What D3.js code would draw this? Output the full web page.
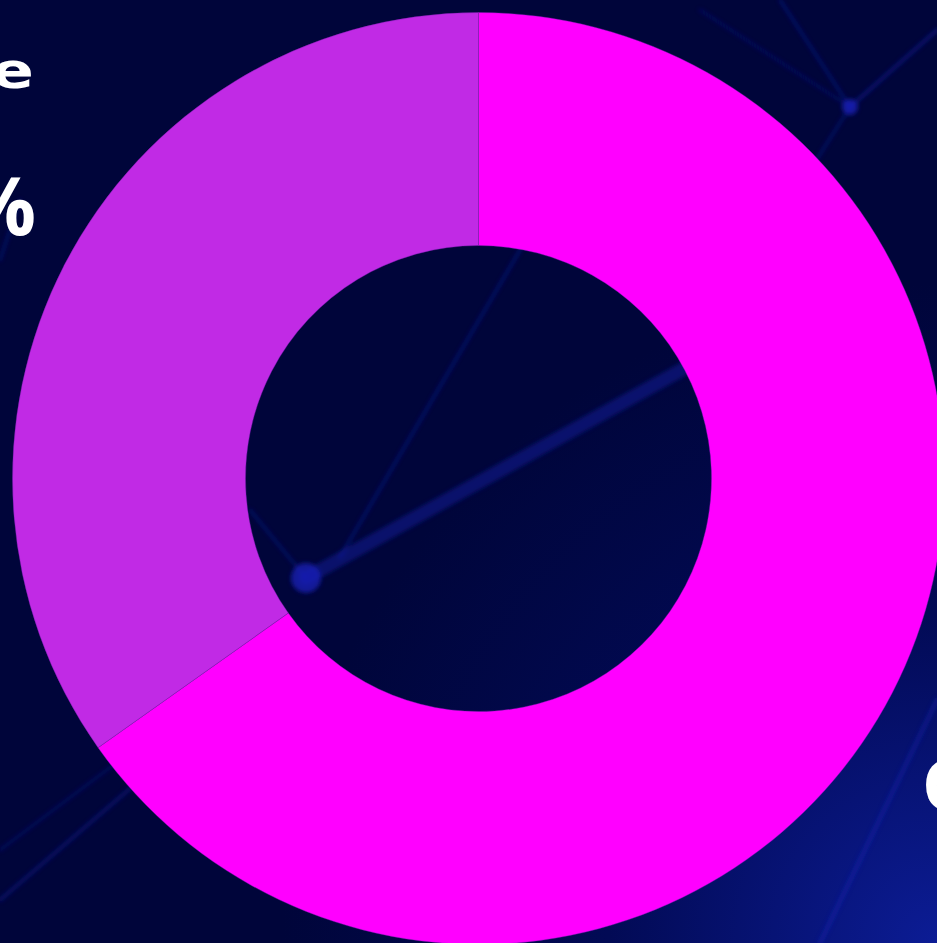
<!DOCTYPE html>
<html>
<head>
<meta charset="utf-8">
<script src="https://cdn.jsdelivr.net/npm/d3@7"></script>
<style>
  html, body { margin: 0; padding: 0; background: #00043a; overflow: hidden; }
  svg { display: block; }
</style>
</head>
<body>
<div id="chart"></div>
<script>
// slice data, clockwise from 12 o'clock
const labels = ['Magenta', 'Purple'];
const values = [65.2, 34.8];
const colors = ['#ff00ff', '#c12ae5'];

// background network strands (decoration only)
const strands = [
  [[687, 367], [306, 578], 14, 0.35],
  [[523, 245], [340, 557], 3, 0.35],
  [[250, 510], [306, 578], 3, 0.3],
  [[780, 0], [850, 107], 3, 0.35],
  [[937, 30], [850, 107], 4, 0.35],
  [[700, 10], [850, 107], 3, 0.25],
  [[850, 107], [810, 170], 3, 0.3],
  [[937, 700], [820, 943], 5, 0.3],
  [[0, 900], [140, 780], 4, 0.3],
  [[0, 850], [120, 760], 3, 0.25],
  [[20, 200], [0, 260], 3, 0.3]
];
const nodes = [[306, 578, 15], [850, 107, 8]];

const width = 937, height = 943;
const svg = d3.select('#chart').append('svg')
  .attr('width', width).attr('height', height);

const defs = svg.append('defs');
const bg = defs.append('radialGradient').attr('id', 'bg')
  .attr('cx', '100%').attr('cy', '100%').attr('r', '70%');
bg.append('stop').attr('offset', '0%').attr('stop-color', '#0c1c95');
bg.append('stop').attr('offset', '50%').attr('stop-color', '#020a55');
bg.append('stop').attr('offset', '100%').attr('stop-color', '#00053a');
const blur = defs.append('filter').attr('id', 'soft');
blur.append('feGaussianBlur').attr('stdDeviation', 2);

svg.append('rect').attr('width', width).attr('height', height).attr('fill', 'url(#bg)');

const deco = svg.append('g').attr('filter', 'url(#soft)');
deco.selectAll('line').data(strands).enter().append('line')
  .attr('x1', d => d[0][0]).attr('y1', d => d[0][1])
  .attr('x2', d => d[1][0]).attr('y2', d => d[1][1])
  .attr('stroke', '#1a28c8').attr('stroke-width', d => d[2])
  .attr('stroke-linecap', 'round').attr('opacity', d => d[3]);
deco.selectAll('circle').data(nodes).enter().append('circle')
  .attr('cx', d => d[0]).attr('cy', d => d[1]).attr('r', d => d[2])
  .attr('fill', '#1a22c0').attr('opacity', 0.7);

// partly hidden titles behind the donut
svg.append('text').attr('text-anchor', 'end')
  .attr('transform', 'translate(34,88) scale(1.25,1)')
  .attr('font-family', 'DejaVu Sans').attr('font-weight', 'bold').attr('font-size', 50)
  .attr('fill', '#ffffff').text('e');
svg.append('text').attr('x', 36).attr('y', 235).attr('text-anchor', 'end')
  .attr('font-family', 'Open Sans').attr('font-weight', 'bold').attr('font-size', 80)
  .attr('fill', '#ffffff').text('%');
svg.append('text').attr('x', 922).attr('y', 810)
  .attr('font-family', 'Open Sans').attr('font-weight', 'bold').attr('font-size', 70)
  .attr('fill', '#ffffff').text('C');

const cx = 478.5, cy = 478.5, outerR = 466, innerR = 233;

const pie = d3.pie().sort(null).value(d => d.value);
const arc = d3.arc().innerRadius(innerR).outerRadius(outerR);
const slices = pie(labels.map((l, i) => ({label: l, value: values[i]})));

const g = svg.append('g').attr('transform', 'translate(' + cx + ',' + cy + ')');
g.selectAll('path').data(slices).enter().append('path')
  .attr('d', arc)
  .attr('fill', (d, i) => colors[i])
  .attr('stroke', '#7a1fb0').attr('stroke-width', 0.4);
</script>
</body>
</html>
